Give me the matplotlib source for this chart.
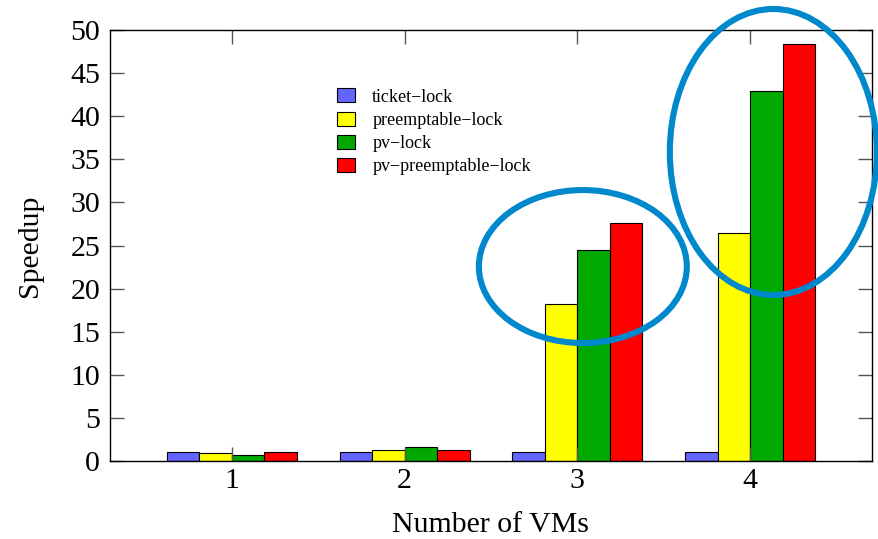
import numpy as np
import matplotlib.pyplot as plt
from matplotlib.patches import Ellipse

plt.rcParams['font.family'] = ['Liberation Serif', 'DejaVu Serif']

vms = [1, 2, 3, 4]
series = ['ticket\u2212lock', 'preemptable\u2212lock', 'pv\u2212lock', 'pv\u2212preemptable\u2212lock']
ticket = [1.0, 1.0, 1.0, 1.0]
preempt = [0.93, 1.24, 18.2, 26.45]
pv = [0.66, 1.6, 24.5, 42.9]
pv_preempt = [1.0, 1.24, 27.6, 48.4]
couleurs = ['#6464FF', '#FFFF00', '#00A800', '#FF0000']

fig = plt.figure(figsize=(8.79, 5.39), dpi=100)
ax = fig.add_axes([0.1251, 0.1447, 0.8669, 0.7996])

x = np.array(vms, dtype=float)
w = 0.188
for i, (vals, c, nom) in enumerate(zip([ticket, preempt, pv, pv_preempt], couleurs, series)):
    ax.bar(x + (i - 1.5) * w, vals, w, color=c, edgecolor='black', linewidth=0.8, label=nom)

ax.set_xlim(0.294, 4.706)
ax.set_ylim(0, 50)
ax.set_xticks(vms)
ax.set_yticks(range(0, 51, 5))
ax.tick_params(direction='in', length=10, width=1, color='#555555', labelsize=21.5,
               top=True, right=True)
ax.tick_params(axis='x', pad=5)
ax.tick_params(axis='y', pad=7)
for s in ax.spines.values():
    s.set_linewidth(1)
ax.set_xlabel('Number of VMs', fontsize=21.5, labelpad=13)
ax.set_ylabel('Speedup', fontsize=21.5, labelpad=20)

ax.legend(loc='upper left', bbox_to_anchor=(0.298, 0.865), frameon=False, fontsize=13,
          borderpad=0, borderaxespad=0,
          handlelength=1.0, handleheight=0.83, handletextpad=0.95, labelspacing=0.33)

# cercles d'annotation
for cx, cy, ew, eh in [(3.032, 22.56, 1.204, 17.75), (4.135, 35.85, 1.199, 33.18)]:
    ax.add_patch(Ellipse((cx, cy), ew, eh, fill=False, edgecolor='#0088CC',
                         linewidth=4.4, clip_on=False, zorder=5))

fig.savefig('out.png', dpi=100)
